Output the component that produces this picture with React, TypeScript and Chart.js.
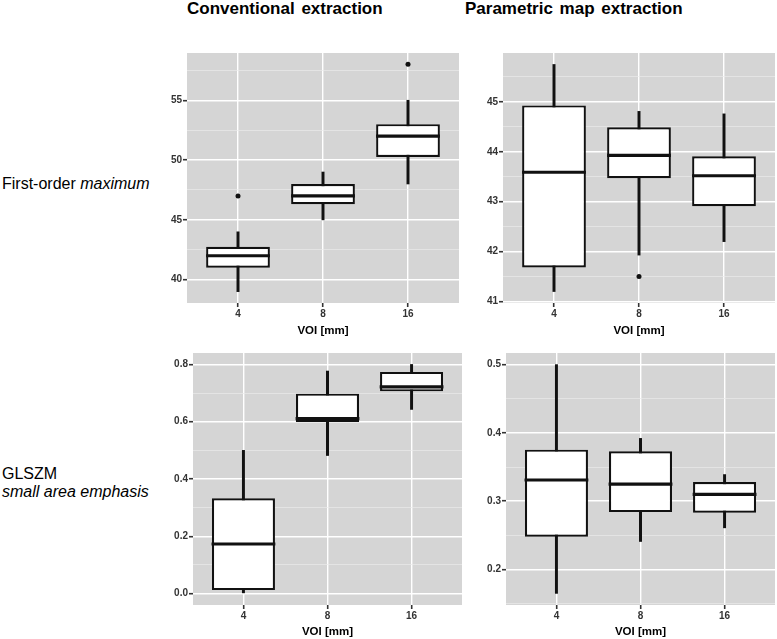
import React, { useEffect, useRef } from 'react';
import { Chart, registerables } from 'chart.js';

Chart.register(...registerables);

// ---------- data ----------
const categories = ['4', '8', '16'];
const xPositions = [1, 2, 3];
const xRange = [0.4, 3.6];
const xAxisTitle = 'VOI [mm]';

const columnTitles = ['Conventional extraction', 'Parametric map extraction'];
const rowLabelFirst = ['First-order ', 'maximum'];
const rowLabelSecond = ['GLSZM', 'small area emphasis'];

// Conventional extraction – first-order maximum
const convMaxLow = [39, 45, 48];
const convMaxQ1 = [41, 46.3, 50.25];
const convMaxMedian = [42, 47, 52];
const convMaxQ3 = [42.75, 48, 53];
const convMaxHigh = [44, 49, 55];
const convMaxOutliers = [[47], [], [58]];
const convMaxRange = [38.05, 58.95];
const convMaxMajor = [40, 45, 50, 55];
const convMaxMinor = [42.5, 47.5, 52.5, 57.5];
const convMaxLabels = ['40', '45', '50', '55'];

// Parametric map extraction – first-order maximum
const paramMaxLow = [41.2, 41.93, 42.2];
const paramMaxQ1 = [41.68, 43.47, 42.91];
const paramMaxMedian = [43.59, 43.93, 43.52];
const paramMaxQ3 = [44.93, 44.49, 43.91];
const paramMaxHigh = [45.75, 44.81, 44.76];
const paramMaxOutliers = [[], [41.5], []];
const paramMaxRange = [40.97, 45.98];
const paramMaxMajor = [41, 42, 43, 44, 45];
const paramMaxMinor = [41.5, 42.5, 43.5, 44.5, 45.5];
const paramMaxLabels = ['41', '42', '43', '44', '45'];

// Conventional extraction – GLSZM small area emphasis
const convSaeLow = [0.0, 0.482, 0.643];
const convSaeQ1 = [0.012, 0.599, 0.706];
const convSaeMedian = [0.173, 0.611, 0.722];
const convSaeQ3 = [0.333, 0.698, 0.774];
const convSaeHigh = [0.5, 0.777, 0.8];
const convSaeOutliers = [[], [], []];
const convSaeRange = [-0.04, 0.84];
const convSaeMajor = [0, 0.2, 0.4, 0.6, 0.8];
const convSaeMinor = [0.1, 0.3, 0.5, 0.7];
const convSaeLabels = ['0.0', '0.2', '0.4', '0.6', '0.8'];

// Parametric map extraction – GLSZM small area emphasis
const paramSaeLow = [0.165, 0.241, 0.261];
const paramSaeQ1 = [0.248, 0.284, 0.283];
const paramSaeMedian = [0.331, 0.325, 0.31];
const paramSaeQ3 = [0.3755, 0.373, 0.328];
const paramSaeHigh = [0.5, 0.392, 0.339];
const paramSaeOutliers = [[], [], []];
const paramSaeRange = [0.148, 0.517];
const paramSaeMajor = [0.2, 0.3, 0.4, 0.5];
const paramSaeMinor = [0.15, 0.25, 0.35, 0.45];
const paramSaeLabels = ['0.2', '0.3', '0.4', '0.5'];

// ---------- styling / layout ----------
const FONT = "'Liberation Sans', Arial, Helvetica, sans-serif";
const PANEL_BG = '#d5d5d5';
const Y_AXIS_W = 40;

type Panel = {
  low: number[]; q1: number[]; med: number[]; q3: number[]; high: number[];
  outliers: number[][]; range: number[]; major: number[]; minor: number[]; labels: string[];
  left: number; top: number; w: number; h: number; xAxisH: number; titlePad: number;
};

const panels: Panel[] = [
  { low: convMaxLow, q1: convMaxQ1, med: convMaxMedian, q3: convMaxQ3, high: convMaxHigh,
    outliers: convMaxOutliers, range: convMaxRange, major: convMaxMajor, minor: convMaxMinor, labels: convMaxLabels,
    left: 147, top: 45, w: 314, h: 300, xAxisH: 42, titlePad: 7.5 },
  { low: paramMaxLow, q1: paramMaxQ1, med: paramMaxMedian, q3: paramMaxQ3, high: paramMaxHigh,
    outliers: paramMaxOutliers, range: paramMaxRange, major: paramMaxMajor, minor: paramMaxMinor, labels: paramMaxLabels,
    left: 463, top: 45, w: 314, h: 300, xAxisH: 42, titlePad: 7.5 },
  { low: convSaeLow, q1: convSaeQ1, med: convSaeMedian, q3: convSaeQ3, high: convSaeHigh,
    outliers: convSaeOutliers, range: convSaeRange, major: convSaeMajor, minor: convSaeMinor, labels: convSaeLabels,
    left: 153, top: 345, w: 311, h: 294, xAxisH: 34, titlePad: 0.5 },
  { low: paramSaeLow, q1: paramSaeQ1, med: paramSaeMedian, q3: paramSaeQ3, high: paramSaeHigh,
    outliers: paramSaeOutliers, range: paramSaeRange, major: paramSaeMajor, minor: paramSaeMinor, labels: paramSaeLabels,
    left: 466, top: 345, w: 311, h: 294, xAxisH: 34, titlePad: 0.5 },
];

const bgPlugin = {
  id: 'panelBg',
  beforeDraw(chart: any) {
    const { ctx, chartArea } = chart;
    ctx.save();
    ctx.fillStyle = PANEL_BG;
    ctx.fillRect(chartArea.left, chartArea.top, chartArea.right - chartArea.left, chartArea.bottom - chartArea.top);
    ctx.restore();
  },
};

const near = (a: number, b: number) => Math.abs(a - b) < 1e-9;

function buildConfig(p: Panel): any {
  const isMajor = (v: number) => p.major.some((m) => near(m, v));
  const allY = [...p.major, ...p.minor].sort((a, b) => a - b);
  const outlierPts: { x: number; y: number }[] = [];
  p.outliers.forEach((arr, i) => arr.forEach((v) => outlierPts.push({ x: xPositions[i], y: v })));

  return {
    type: 'bar',
    data: {
      datasets: [
        {
          type: 'bar',
          label: 'whisker',
          data: xPositions.map((x, i) => ({ x, y: [p.low[i], p.high[i]] })),
          backgroundColor: '#111',
          borderWidth: 0,
          grouped: false,
          maxBarThickness: 2.3,
          categoryPercentage: 1,
          barPercentage: 1,
          order: 3,
        },
        {
          type: 'bar',
          label: 'box',
          data: xPositions.map((x, i) => ({ x, y: [p.q1[i], p.q3[i]] })),
          backgroundColor: '#ffffff',
          borderColor: '#111',
          borderWidth: 2.2,
          borderSkipped: false,
          grouped: false,
          categoryPercentage: 1,
          barPercentage: 0.75,
          order: 2,
        },
        {
          type: 'scatter',
          label: 'median',
          data: xPositions.map((x, i) => ({ x, y: p.med[i] })),
          pointStyle: 'line',
          pointRadius: 31.9,
          pointHoverRadius: 31.9,
          borderColor: '#111',
          borderWidth: 3.2,
          showLine: false,
          order: 1,
        },
        {
          type: 'scatter',
          label: 'outliers',
          data: outlierPts,
          pointStyle: 'circle',
          pointRadius: 2.5,
          backgroundColor: '#111',
          borderWidth: 0,
          showLine: false,
          order: 0,
        },
      ],
    },
    options: {
      responsive: false,
      animation: false,
      events: [],
      layout: { autoPadding: false, padding: { top: 8, right: 2, left: 0, bottom: 0 } },
      plugins: { legend: { display: false }, tooltip: { enabled: false } },
      scales: {
        x: {
          type: 'linear',
          min: xRange[0],
          max: xRange[1],
          offset: false,
          afterBuildTicks: (s: any) => { s.ticks = xPositions.map((v) => ({ value: v })); },
          afterFit: (s: any) => { s.height = p.xAxisH; },
          grid: { color: '#ffffff', lineWidth: 1.4, offset: false, drawTicks: true, tickLength: 4, tickColor: '#333', tickWidth: 1.6 },
          border: { display: false },
          ticks: {
            autoSkip: false,
            maxRotation: 0,
            padding: 1,
            color: '#333',
            font: { family: FONT, size: 10, weight: 'bold' },
            callback: (v: number) => {
              const i = xPositions.findIndex((x) => near(x, v));
              return i >= 0 ? categories[i] : '';
            },
          },
          title: {
            display: true,
            text: xAxisTitle,
            color: '#000',
            font: { family: FONT, size: 11.5, weight: 'bold' },
            padding: { top: 0, bottom: p.titlePad },
          },
        },
        y: {
          type: 'linear',
          min: p.range[0],
          max: p.range[1],
          afterBuildTicks: (s: any) => { s.ticks = allY.map((v) => ({ value: v })); },
          afterFit: (s: any) => { s.width = Y_AXIS_W; },
          grid: {
            color: (ctx: any) => (isMajor(ctx.tick.value) ? '#ffffff' : '#ebebeb'),
            lineWidth: (ctx: any) => (isMajor(ctx.tick.value) ? 1.4 : 0.7),
            drawTicks: true,
            tickLength: 4,
            tickWidth: 1.6,
            tickColor: (ctx: any) => (isMajor(ctx.tick.value) ? '#333' : 'rgba(0,0,0,0)'),
          },
          border: { display: false },
          ticks: {
            autoSkip: false,
            padding: 1,
            color: '#333',
            font: { family: FONT, size: 10, weight: 'bold' },
            callback: (v: number) => {
              const i = p.major.findIndex((m) => near(m, v));
              return i >= 0 ? p.labels[i] : '';
            },
          },
        },
      },
    },
    plugins: [bgPlugin],
  };
}

function PanelChart({ p }: { p: Panel }) {
  const ref = useRef<HTMLCanvasElement>(null);
  useEffect(() => {
    if (!ref.current) return;
    const chart = new Chart(ref.current, buildConfig(p));
    return () => chart.destroy();
  }, [p]);
  return (
    <canvas
      ref={ref}
      width={p.w}
      height={p.h}
      style={{ position: 'absolute', left: p.left, top: p.top, width: p.w, height: p.h }}
    />
  );
}

export default function App() {
  const titleStyle: React.CSSProperties = {
    position: 'absolute', top: -1, fontFamily: FONT, fontWeight: 'bold', fontSize: 17,
    lineHeight: '20px', color: '#000', whiteSpace: 'nowrap', wordSpacing: 2,
  };
  const rowStyle: React.CSSProperties = {
    position: 'absolute', left: 2, fontFamily: FONT, fontSize: 16, lineHeight: '20px',
    color: '#000', whiteSpace: 'nowrap',
  };
  return (
    <div style={{ position: 'absolute', left: 0, top: 0, width: 777, height: 639, overflow: 'hidden', background: '#fff' }}>
      <div style={{ ...titleStyle, left: 187 }}>{columnTitles[0]}</div>
      <div style={{ ...titleStyle, left: 465 }}>{columnTitles[1]}</div>
      <div style={{ ...rowStyle, top: 174 }}>
        {rowLabelFirst[0]}<i>{rowLabelFirst[1]}</i>
      </div>
      <div style={{ ...rowStyle, top: 464 }}>{rowLabelSecond[0]}</div>
      <div style={{ ...rowStyle, top: 482 }}><i>{rowLabelSecond[1]}</i></div>
      {panels.map((p, i) => (
        <PanelChart key={i} p={p} />
      ))}
    </div>
  );
}
